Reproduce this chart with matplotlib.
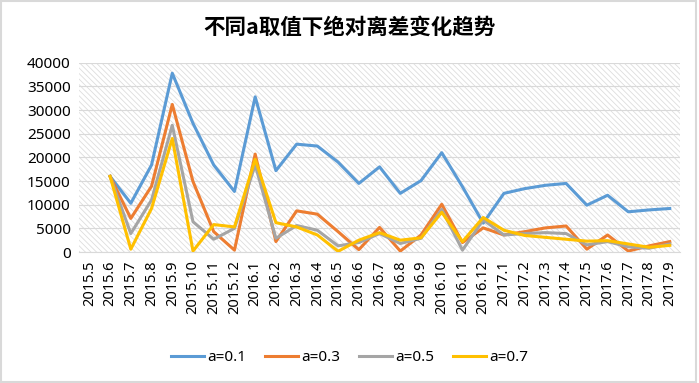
import numpy as np
import matplotlib.pyplot as plt
from matplotlib.patches import Rectangle

plt.rcParams['font.family'] = ['Noto Sans', 'Noto Sans CJK SC', 'DejaVu Sans']
plt.rcParams['hatch.linewidth'] = 0.6

months = ['2015.5', '2015.6', '2015.7', '2015.8', '2015.9', '2015.10', '2015.11', '2015.12',
          '2016.1', '2016.2', '2016.3', '2016.4', '2016.5', '2016.6', '2016.7', '2016.8',
          '2016.9', '2016.10', '2016.11', '2016.12', '2017.1', '2017.2', '2017.3', '2017.4',
          '2017.5', '2017.6', '2017.7', '2017.8', '2017.9']

# first month has no value
a01 = [np.nan, 16000, 10300, 18400, 37800, 27200, 18400, 12800, 32800, 17200, 22800, 22400,
       19000, 14500, 18000, 12400, 15100, 21000, 13800, 6100, 12400, 13400, 14100, 14500,
       9900, 12000, 8500, 8900, 9200]
a03 = [np.nan, 16000, 7100, 13900, 31200, 14900, 4300, 400, 20700, 2200, 8700, 8000,
       4300, 500, 5200, 200, 3600, 10100, 2000, 5100, 3600, 4300, 5100, 5500,
       600, 3600, 200, 1300, 2200]
a05 = [np.nan, 16000, 3900, 11000, 26800, 6400, 2700, 5000, 18400, 2900, 5600, 4600,
       1300, 2000, 3900, 1800, 2900, 9000, 400, 6800, 3600, 3900, 4100, 3900,
       1500, 2200, 1100, 800, 1700]
a07 = [np.nan, 16000, 600, 9200, 24000, 200, 5800, 5300, 19600, 6200, 5300, 3600,
       150, 2500, 4100, 2500, 3000, 8400, 2200, 7300, 4600, 3500, 3100, 2700,
       2300, 2400, 1700, 1000, 1400]

series = [('a=0.1', a01, '#5B9BD5'), ('a=0.3', a03, '#ED7D31'),
          ('a=0.5', a05, '#A5A5A5'), ('a=0.7', a07, '#FFC000')]

fig = plt.figure(figsize=(6.99, 3.83), dpi=100)
ax = fig.add_axes([0.113, 0.342, 0.86, 0.494])

x = np.arange(len(months))
ax.set_xlim(-0.5, len(months) - 0.5)
ax.set_ylim(0, 40000)

# hatched plot background
ax.add_patch(Rectangle((0, 0), 1, 1, transform=ax.transAxes, facecolor='white',
                       edgecolor='#DDDDDD', hatch='\\\\\\\\\\\\', linewidth=0, zorder=0))
ax.set_yticks(np.arange(0, 40001, 5000))
ax.yaxis.grid(True, color='#D9D9D9', linewidth=0.8, zorder=1)
ax.set_axisbelow(True)

for label, vals, color in series:
    ax.plot(x, vals, color=color, linewidth=2.2, label=label, zorder=3)

ax.set_xticks(x)
ax.set_xticklabels(months, rotation=90, fontsize=10.5)
ax.tick_params(axis='y', labelsize=11, length=0, pad=6)
ax.tick_params(axis='x', length=0, pad=6)
for s in ['top', 'right', 'left']:
    ax.spines[s].set_visible(False)
ax.spines['bottom'].set_color('#D9D9D9')

fig.text(0.5, 0.928, '不同a取值下绝对离差变化趋势', ha='center', va='center',
         fontsize=15.5, fontweight='bold', family=['Noto Sans CJK SC', 'DejaVu Sans'])

fig.legend(loc='center', bbox_to_anchor=(0.5, 0.066), ncol=4, frameon=False,
           fontsize=11, handlelength=2.2, columnspacing=1.2, handletextpad=0.2)

fig.add_artist(Rectangle((0.002, 0.003), 0.994, 0.994, transform=fig.transFigure,
                         fill=False, edgecolor='#D9D9D9', linewidth=1.5))

fig.savefig('out.png', dpi=100)
